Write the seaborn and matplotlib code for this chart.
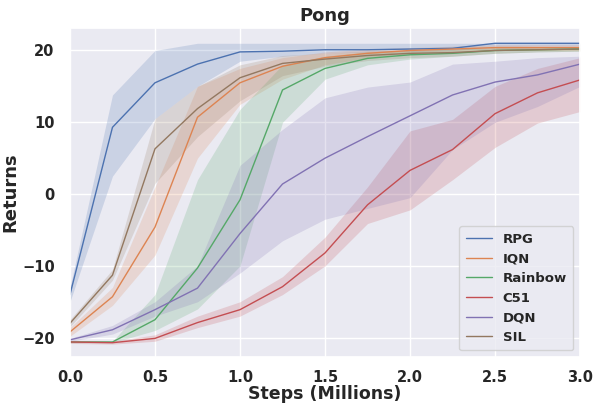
import numpy as np
import pandas as pd
import matplotlib
matplotlib.use("Agg")
import matplotlib.pyplot as plt
import seaborn as sns

# steps in millions
steps = [0.0, 0.25, 0.5, 0.75, 1.0, 1.25, 1.5, 1.75, 2.0, 2.25, 2.5, 2.75, 3.0]
algos = ["RPG", "IQN", "Rainbow", "C51", "DQN", "SIL"]

# mean returns
rpg_mean = [-14.0, 9.3, 15.5, 18.1, 19.8, 19.9, 20.1, 20.1, 20.2, 20.3, 21.0, 21.0, 21.0]
iqn_mean = [-19.2, -14.3, -4.6, 10.7, 15.5, 17.8, 19.0, 19.6, 20.0, 20.2, 20.4, 20.4, 20.4]
rainbow_mean = [-20.6, -20.6, -17.5, -10.3, -0.8, 14.5, 17.5, 18.9, 19.4, 19.6, 20.0, 20.1, 20.2]
c51_mean = [-20.6, -20.7, -20.1, -17.9, -16.1, -12.9, -8.2, -1.5, 3.3, 6.2, 11.2, 14.1, 15.9]
dqn_mean = [-20.3, -18.9, -16.1, -13.1, -5.5, 1.4, 5.0, 8.0, 10.9, 13.8, 15.6, 16.6, 18.1]
sil_mean = [-18.0, -11.3, 6.3, 11.9, 16.2, 18.2, 18.8, 19.3, 19.6, 19.7, 20.0, 20.1, 20.2]

# lower / upper edges of the shaded bands
rpg_lo = [-15.0, 2.5, 10.5, 15.0, 18.5, 19.2, 19.6, 19.8, 19.9, 20.0, 20.5, 20.6, 20.6]
rpg_hi = [-13.0, 13.8, 20.0, 21.0, 21.0, 21.0, 21.0, 21.0, 21.0, 21.0, 21.0, 21.0, 21.0]
iqn_lo = [-19.8, -15.5, -8.5, 5.0, 12.5, 16.0, 18.0, 19.0, 19.6, 19.8, 20.0, 20.0, 20.0]
iqn_hi = [-18.6, -13.0, 1.0, 15.0, 17.5, 19.0, 19.8, 20.2, 20.4, 20.6, 20.8, 20.8, 20.8]
rainbow_lo = [-20.7, -20.7, -19.0, -16.0, -10.0, 10.0, 16.0, 18.0, 18.8, 19.2, 19.6, 19.8, 19.9]
rainbow_hi = [-20.5, -20.5, -14.0, 2.0, 11.8, 18.0, 19.2, 19.8, 20.0, 20.2, 20.4, 20.5, 20.5]
c51_lo = [-20.8, -20.9, -20.5, -18.6, -17.0, -14.0, -10.0, -4.1, -2.2, 2.0, 6.5, 9.9, 11.5]
c51_hi = [-20.4, -20.5, -19.6, -17.0, -15.0, -11.5, -6.0, 1.0, 8.8, 10.4, 15.0, 17.5, 19.0]
dqn_lo = [-20.5, -19.5, -17.0, -15.0, -11.0, -6.5, -3.5, -2.0, -0.5, 6.2, 10.0, 12.2, 15.0]
dqn_hi = [-20.1, -18.3, -15.0, -10.0, 4.0, 9.0, 13.4, 14.9, 15.6, 18.1, 18.5, 19.0, 19.2]
sil_lo = [-18.5, -12.0, 1.5, 8.0, 13.0, 16.5, 17.8, 18.6, 19.0, 19.2, 19.6, 19.8, 19.9]
sil_hi = [-17.5, -10.5, 10.5, 15.0, 18.0, 19.3, 19.6, 19.9, 20.1, 20.2, 20.4, 20.4, 20.4]

means = [rpg_mean, iqn_mean, rainbow_mean, c51_mean, dqn_mean, sil_mean]
lows = [rpg_lo, iqn_lo, rainbow_lo, c51_lo, dqn_lo, sil_lo]
highs = [rpg_hi, iqn_hi, rainbow_hi, c51_hi, dqn_hi, sil_hi]

#building a long table for seaborn
rows = []
for name, m in zip(algos, means):
    for s, v in zip(steps, m):
        rows.append({"Steps": s, "Returns": v, "Algo": name})
data = pd.DataFrame(rows)

sns.set_theme(style="darkgrid")
plt.rcParams["font.weight"] = "bold"
plt.rcParams["axes.titleweight"] = "bold"
plt.rcParams["axes.labelweight"] = "bold"
colors = sns.color_palette("deep", 6)

fig = plt.figure(figsize=(5.98, 4.03), dpi=100)
ax = fig.add_axes([0.117, 0.114, 0.853, 0.816])

sns.lineplot(data=data, x="Steps", y="Returns", hue="Algo", hue_order=algos,
             palette=colors, linewidth=1.0, ax=ax)

#shaded bands
for c, lo, hi in zip(colors, lows, highs):
    ax.fill_between(steps, lo, hi, color=c, alpha=0.2, linewidth=0)

ax.set_xlim(0, 3.0)
ax.set_ylim(-22.7, 23.1)
ax.set_xticks([0.0, 0.5, 1.0, 1.5, 2.0, 2.5, 3.0])
ax.set_yticks([-20, -10, 0, 10, 20])
ax.set_title("Pong", fontsize=13, fontweight="bold", pad=5)
ax.set_xlabel("Steps (Millions)", fontsize=12.5, fontweight="bold", labelpad=0)
ax.set_ylabel("Returns", fontsize=13, fontweight="bold", labelpad=2)
ax.tick_params(axis="x", labelsize=10.5, pad=3)
ax.tick_params(axis="y", labelsize=10.5, pad=5)

leg = ax.legend(loc="lower right", prop={"weight": "bold", "size": 9.5},
                handlelength=2.0, borderpad=0.5, labelspacing=0.5)
for line in leg.get_lines():
    line.set_linewidth(1.0)

fig.savefig("out.png", dpi=100)
